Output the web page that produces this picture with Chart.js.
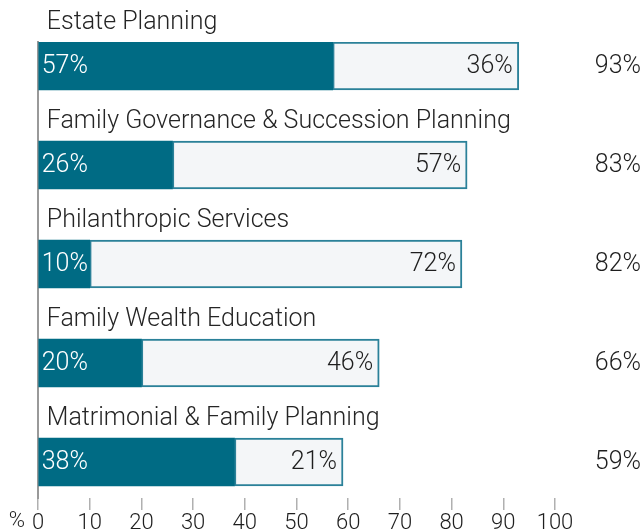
<!DOCTYPE html>
<html>
<head>
<meta charset="utf-8">
<script src="https://cdn.jsdelivr.net/npm/chart.js@4.4.0/dist/chart.umd.min.js"></script>
<style>
  html, body { margin: 0; padding: 0; background: #fff; }
  #wrap { width: 643px; height: 531px; position: relative; }
</style>
</head>
<body>
<div id="wrap"><canvas id="chart"></canvas></div>
<script>
// data
const categories = [
  'Estate Planning',
  'Family Governance & Succession Planning',
  'Philanthropic Services',
  'Family Wealth Education',
  'Matrimonial & Family Planning'
];
const darkValues = [57, 26, 10, 20, 38];
const lightValues = [36, 57, 72, 46, 21];
const totals = [93, 83, 82, 66, 59];
const xTicks = [0, 10, 20, 30, 40, 50, 60, 70, 80, 90, 100];

const FONT = "Roboto, 'Open Sans', sans-serif";
const TEAL = '#006b84';
const TEXT = '#1e1e1e';

// labels above bars, values inside, totals on the right
const labelPlugin = {
  id: 'barLabels',
  afterDatasetsDraw(chart) {
    const ctx = chart.ctx;
    const darkMeta = chart.getDatasetMeta(0);
    const lightMeta = chart.getDatasetMeta(1);
    ctx.save();
    ctx.textBaseline = 'middle';
    darkMeta.data.forEach((bar, i) => {
      const lightBar = lightMeta.data[i];
      // category name
      ctx.font = '300 25px ' + FONT;
      ctx.fillStyle = '#252525';
      ctx.textAlign = 'left';
      ctx.fillText(categories[i], bar.base + 8, bar.y - 43);
      // dark segment value
      ctx.fillStyle = '#ffffff';
      ctx.fillText(darkValues[i] + '%', bar.base + 3, bar.y + 1);
      // light segment value
      ctx.fillStyle = TEXT;
      ctx.textAlign = 'right';
      ctx.fillText(lightValues[i] + '%', lightBar.x - 6, bar.y + 1);
      // total
      ctx.fillText(totals[i] + '%', chart.width - 2, bar.y + 1);
    });
    // "%" unit left of the zero tick
    const xs = chart.scales.x;
    ctx.font = '300 22px ' + FONT;
    ctx.textAlign = 'right';
    ctx.fillStyle = TEXT;
    ctx.fillText('%', xs.getPixelForValue(0) - 13, 521);
    ctx.restore();
  }
};

new Chart(document.getElementById('chart'), {
  type: 'bar',
  data: {
    datasets: [
      {
        label: 'dark',
        data: darkValues.map((v, i) => ({ x: v, y: i })),
        backgroundColor: TEAL,
        borderWidth: 0,
        barThickness: 48
      },
      {
        label: 'light',
        data: lightValues.map((v, i) => ({ x: v, y: i })),
        backgroundColor: '#f4f6f8',
        borderColor: '#2b8199',
        borderWidth: 2,
        borderSkipped: false,
        barThickness: 48
      }
    ]
  },
  options: {
    indexAxis: 'y',
    responsive: true,
    maintainAspectRatio: false,
    animation: false,
    layout: { padding: { left: 38, right: 88, top: 42, bottom: 0 } },
    scales: {
      x: {
        type: 'linear',
        stacked: true,
        min: 0,
        max: 100,
        afterBuildTicks(scale) { scale.ticks = xTicks.map(v => ({ value: v })); },
        afterFit(scale) { scale.height = 33; },
        grid: { drawOnChartArea: false, drawTicks: true, tickLength: 12, color: '#b0b0b0', lineWidth: 1.5 },
        border: { display: false },
        ticks: { color: TEXT, padding: 0, font: { family: FONT, size: 22, weight: 300 } }
      },
      y: {
        type: 'linear',
        stacked: true,
        reverse: true,
        offset: false,
        min: -0.2424,
        max: 4.3636,
        grid: { display: false, offset: false },
        border: { display: true, color: '#999999', width: 2 },
        ticks: { display: false },
        afterFit(scale) { scale.width = 0; }
      }
    },
    plugins: {
      legend: { display: false },
      tooltip: { enabled: false }
    }
  },
  plugins: [labelPlugin]
});
</script>
</body>
</html>
